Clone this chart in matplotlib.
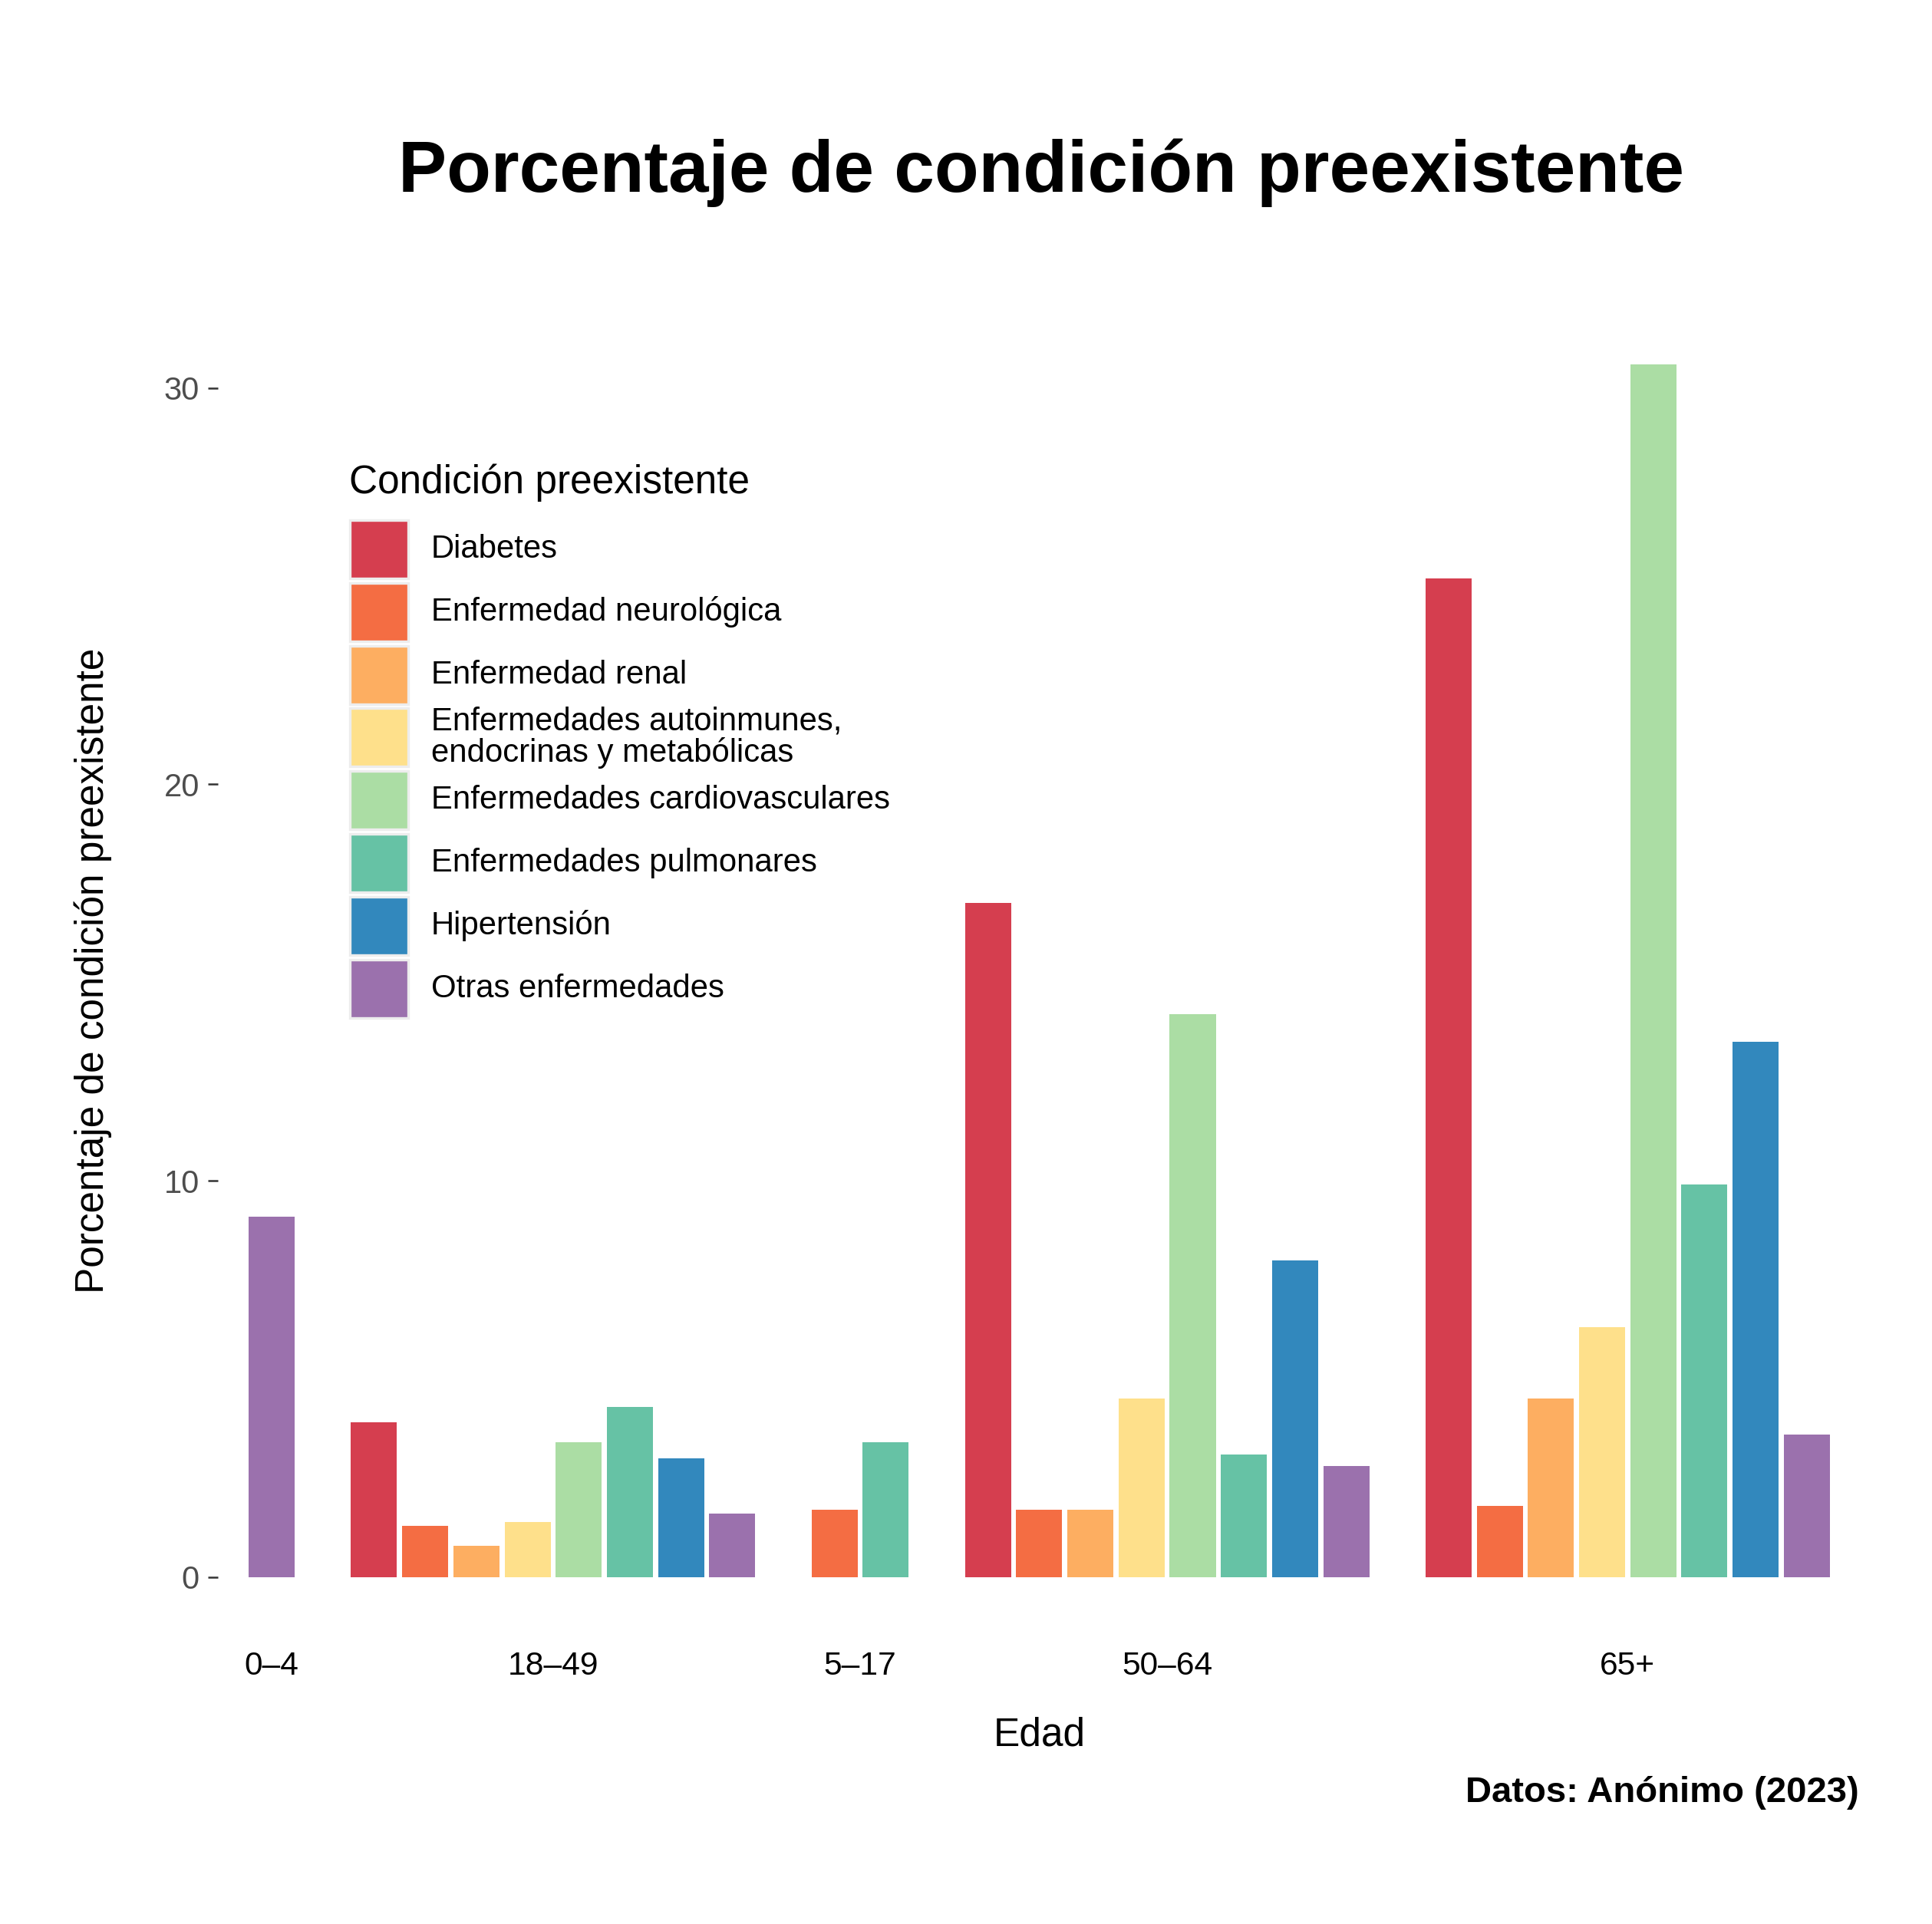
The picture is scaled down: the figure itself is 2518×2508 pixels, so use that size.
"""Bar chart: porcentaje de condición preexistente por grupo de edad."""

import matplotlib

matplotlib.use("Agg")
import matplotlib.pyplot as plt  # noqa: E402
from matplotlib.patches import Rectangle  # noqa: E402

plt.rcParams["font.family"] = ["Liberation Sans", "DejaVu Sans"]

# --- data --------------------------------------------------------------
ages = ["0–4", "18–49", "5–17", "50–64", "65+"]

conditions = [
    "Diabetes",
    "Enfermedad neurológica",
    "Enfermedad renal",
    "Enfermedades autoinmunes,\nendocrinas y metabólicas",
    "Enfermedades cardiovasculares",
    "Enfermedades pulmonares",
    "Hipertensión",
    "Otras enfermedades",
]

# one list per condition, aligned with `ages`; None = no bar
diabetes = [None, 3.9, None, 17.0, 25.2]
neurologica = [None, 1.3, 1.7, 1.7, 1.8]
renal = [None, 0.8, None, 1.7, 4.5]
autoinmunes = [None, 1.4, None, 4.5, 6.3]
cardiovasculares = [None, 3.4, None, 14.2, 30.6]
pulmonares = [None, 4.3, 3.4, 3.1, 9.9]
hipertension = [None, 3.0, None, 8.0, 13.5]
otras = [9.1, 1.6, None, 2.8, 3.6]

series = [diabetes, neurologica, renal, autoinmunes,
          cardiovasculares, pulmonares, hipertension, otras]

colors = ["#D53E4F", "#F46D43", "#FDAE61", "#FEE08B",
          "#ABDDA4", "#66C2A5", "#3288BD", "#9B71AD"]

# --- layout of the dodged bars ----------------------------------------
BAR_W = 0.9
xs = [[] for _ in series]
hs = [[] for _ in series]
tick_pos = []
cursor = 0
for g in range(len(ages)):
    present = [i for i, s in enumerate(series) if s[g] is not None]
    for k, i in enumerate(present):
        xs[i].append(cursor + k)
        hs[i].append(series[i][g])
    tick_pos.append(cursor + (len(present) - 1) / 2)
    cursor += len(present) + 1
last = cursor - 2

ymax = max(v for s in series for v in s if v is not None)

W, H = 2518, 2508
fig = plt.figure(figsize=(W / 200, H / 200), dpi=200)
ax = fig.add_axes([0.1128, 0.1487, 0.963 - 0.1128, 0.8423 - 0.1487])

for i, name in enumerate(conditions):
    ax.bar(xs[i], hs[i], width=BAR_W, color=colors[i], linewidth=0, label=name)

ax.set_xlim(-BAR_W / 2 - 0.6, last + BAR_W / 2 + 0.6)
ax.set_ylim(-0.05 * ymax, ymax * 1.05)
ax.set_yticks([0, 10, 20, 30])
ax.set_xticks(tick_pos)
ax.set_xticklabels(ages)

for sp in ax.spines.values():
    sp.set_visible(False)
ax.tick_params(axis="y", length=4.7, width=0.9, color="#333333",
               labelcolor="#4D4D4D", labelsize=15, pad=4)
ax.tick_params(axis="x", length=0, labelcolor="black", labelsize=15.3, pad=6)

ax.set_ylabel("Porcentaje de condición preexistente", fontsize=18.5, va="center")
ax.yaxis.set_label_coords(-0.076, 0.5)
ax.set_xlabel("Edad", fontsize=18.5, va="center")
ax.xaxis.set_label_coords(0.5, -0.073)

fig.text(0.539, 0.91, "Porcentaje de condición preexistente",
         ha="center", va="center", fontsize=34, fontweight="bold")
fig.text(0.962, 0.068, "Datos: Anónimo (2023)", ha="right", va="center",
         fontsize=17, fontweight="bold")

# --- legend (ggplot-style square keys, drawn in figure pixels) ----------
KEY_X, KEY_TOP, KEY_SIZE, KEY_STEP = 456, 678, 76, 81.8
fig.text(455 / W, 1 - 643 / H, "Condición preexistente",
         ha="left", va="baseline", fontsize=18.5)
for i, (name, c) in enumerate(zip(conditions, colors)):
    top = KEY_TOP + i * KEY_STEP
    fig.add_artist(Rectangle((KEY_X / W, 1 - (top + KEY_SIZE) / H),
                             KEY_SIZE / W, KEY_SIZE / H,
                             transform=fig.transFigure, facecolor=c,
                             edgecolor="#EDEDED", linewidth=1.2))
    fig.text(562 / W, 1 - (top + KEY_SIZE / 2) / H, name, ha="left",
             va="center", fontsize=15.1, linespacing=1.0)

fig.savefig("out.png", dpi=200, facecolor="white")
